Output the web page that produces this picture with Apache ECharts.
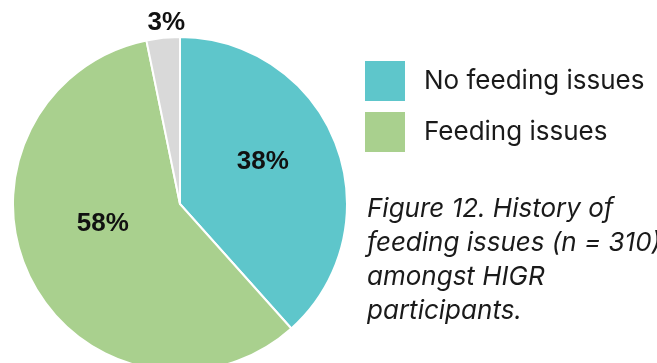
<!DOCTYPE html>
<html><head><meta charset="utf-8">
<script src="https://cdn.jsdelivr.net/npm/echarts@6/dist/echarts.min.js"></script>
<style>html,body{margin:0;padding:0;background:#fff}#c{width:657px;height:363px}</style>
</head><body><div id="c"></div>
<script>
const categories = ['No feeding issues', 'Feeding issues', 'Unknown'];
const counts = [119, 181, 10];
const labels = ['38%', '58%', '3%'];
const colors = ['#5EC6CB', '#A9D08E', '#D9D9D9'];
const captionLines = ['Figure 12. History of', 'feeding issues (n = 310)', 'amongst HIGR', 'participants.'];
const labelOffsets = [[2, -11], [0, -19], [-5, -95]];

const chart = echarts.init(document.getElementById('c'));
chart.setOption({
  animation: false,
  legend: {
    data: categories.slice(0, 2),
    orient: 'vertical', left: 363, top: 59, padding: 0,
    icon: 'rect', itemWidth: 42, itemHeight: 42, itemGap: 7,
    textStyle: { fontFamily: 'Inter', fontSize: 26, color: '#1a1a1a', padding: [0, 0, 0, 13] },
    selectedMode: false
  },
  title: {
    text: captionLines.join('\n'), left: 367, top: 192, padding: 0,
    textStyle: { fontFamily: 'Inter', fontStyle: 'italic', fontWeight: 'normal', fontSize: 26, color: '#1a1a1a', lineHeight: 34 }
  },
  series: [{
    type: 'pie', center: [180, 204], radius: 167, startAngle: 90, clockwise: true,
    itemStyle: { borderColor: '#fff', borderWidth: 2 },
    label: { position: 'inside', fontFamily: 'Arial', fontWeight: 'bold', fontSize: 26, color: '#111', formatter: p => labels[p.dataIndex] },
    labelLine: { show: false },
    data: categories.map((n, i) => ({ name: n, value: counts[i], itemStyle: { color: colors[i] }, label: { offset: labelOffsets[i] } }))
  }]
});
</script></body></html>
